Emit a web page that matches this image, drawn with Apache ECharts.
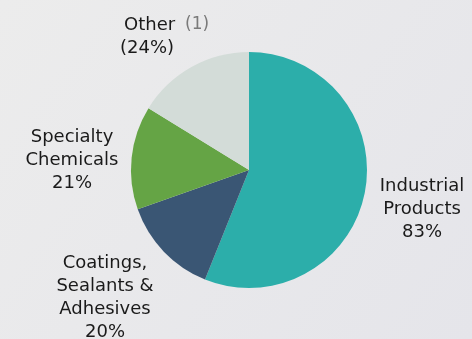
<!DOCTYPE html>
<html>
<head>
<meta charset="utf-8">
<script src="https://cdn.jsdelivr.net/npm/echarts@6/dist/echarts.min.js"></script>
<style>
  html, body { margin: 0; padding: 0; background: #e9e9ec; }
  #chart { width: 472px; height: 339px; }
</style>
</head>
<body>
<div id="chart"></div>
<script>
// Segment share of sales, by business segment
const segments = ['Industrial\nProducts', 'Coatings,\nSealants &\nAdhesives', 'Specialty\nChemicals', 'Other'];
const shares = [83, 20, 21, 24];
const colors = ['#2caeaa', '#3a5674', '#65a445', '#d3dcd8'];

// Where each label block sits (x, first-line centre y, alignment)
const labelSpots = [
  { x: 422, y: 186, align: 'center' },
  { x: 105, y: 263, align: 'center' },
  { x: 72, y: 137, align: 'center' },
  { x: 120, y: 25, align: 'left' }
];
const LINE_H = 23;
const FONT = 'DejaVu Sans';

const chart = echarts.init(document.getElementById('chart'));
chart.setOption({
  backgroundColor: new echarts.graphic.LinearGradient(0, 0, 1, 1, [
    { offset: 0, color: '#ececec' },
    { offset: 1, color: '#e5e5ea' }
  ]),
  animation: false,
  series: [{
    type: 'pie',
    center: [249, 170],
    radius: 118,
    startAngle: 90,
    clockwise: true,
    avoidLabelOverlap: false,
    labelLine: { show: false },
    label: {
      show: true,
      position: 'outside',
      fontFamily: FONT,
      fontSize: 18,
      color: '#1a1a1a',
      lineHeight: LINE_H,
      formatter: function (p) {
        if (p.name === 'Other') {
          return '{o|Other}{n|(1)}\n(' + p.value + '%)';
        }
        return p.name + '\n' + p.value + '%';
      },
      rich: {
        o: { fontFamily: FONT, fontSize: 18, color: '#1a1a1a', lineHeight: LINE_H, padding: [0, 0, 0, 4] },
        n: { fontFamily: FONT, fontSize: 17, color: '#7a7a7a', lineHeight: LINE_H, padding: [0, 0, 0, 10] }
      }
    },
    labelLayout: function (params) {
      const s = labelSpots[params.dataIndex];
      const lines = (params.text || '').split('\n').length;
      return {
        x: s.x,
        y: s.y - LINE_H / 2 + (lines * LINE_H) / 2,
        align: s.align,
        verticalAlign: 'middle'
      };
    },
    data: segments.map((name, i) => ({
      name: name,
      value: shares[i],
      itemStyle: { color: colors[i] }
    }))
  }]
});
</script>
</body>
</html>
